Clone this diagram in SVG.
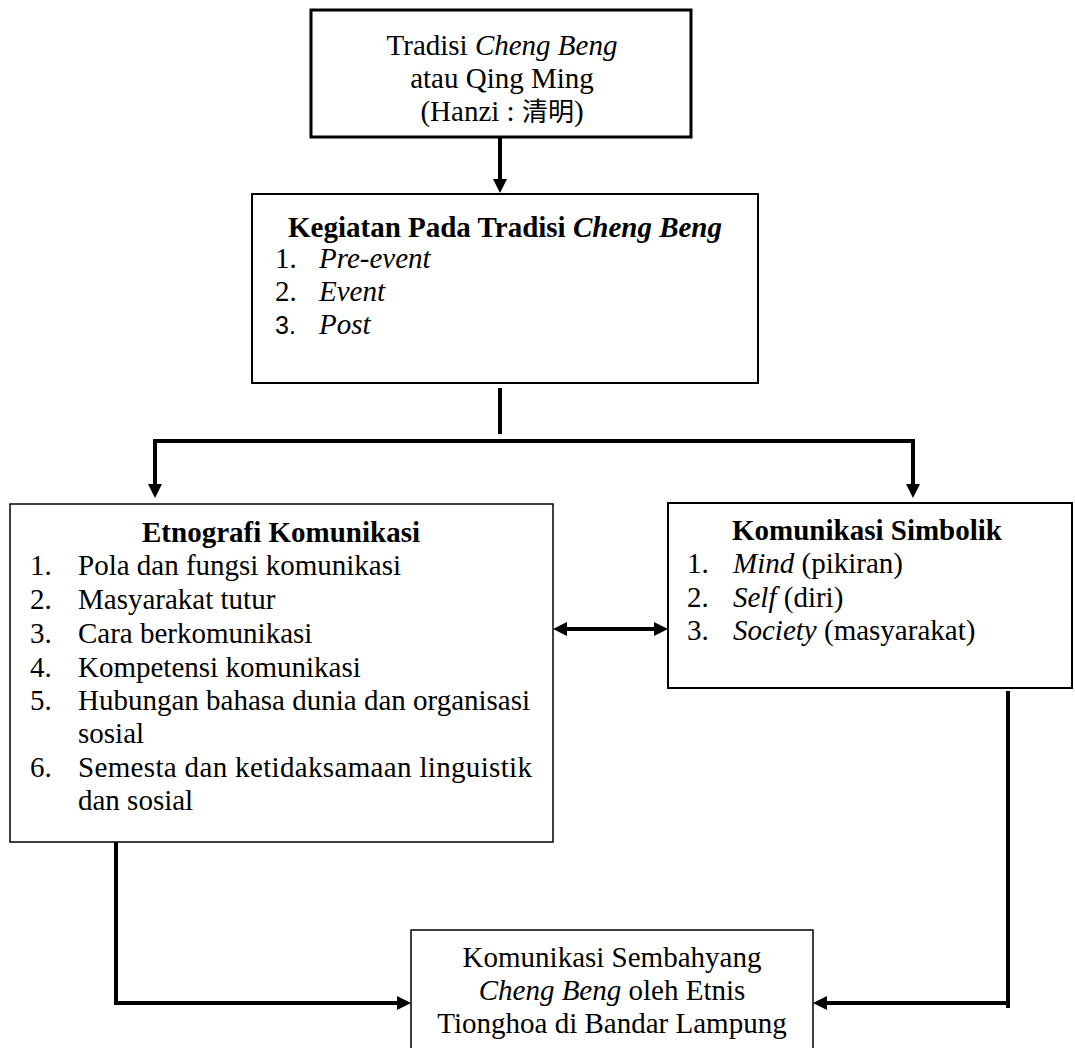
<svg xmlns="http://www.w3.org/2000/svg" width="1075" height="1048" viewBox="0 0 1075 1048">
<style>
  .t { font-family: "Liberation Serif", "Times New Roman", "Noto Sans CJK SC", serif; font-size: 29px; fill: #000; }
  .c { text-anchor: middle; }
  .b { font-weight: bold; }
  .i { font-style: italic; }
  .cjk { font-family: "Noto Sans CJK SC", sans-serif; font-size: 26px; }
  .sans { font-family: "Liberation Sans", Arial, sans-serif; font-size: 25px; }
  .box { fill: #fff; stroke: #000; }
  .ln { fill: none; stroke: #000; stroke-width: 4; }
</style>
<defs>
  <marker id="ah" viewBox="0 0 14 14" refX="0" refY="7" markerWidth="14" markerHeight="14" markerUnits="userSpaceOnUse" orient="auto-start-reverse">
    <path d="M0,0 L14,7 L0,14 z" fill="#000"/>
  </marker>
</defs>
<rect width="1075" height="1048" fill="#fff"/>

<g id="connectors">
  <path class="ln" d="M500,137 V179" marker-end="url(#ah)"/>
  <path class="ln" d="M500,388 V434"/>
  <path class="ln" d="M155,484 V441 H913 V484" marker-start="url(#ah)" marker-end="url(#ah)"/>
  <path class="ln" d="M567,629 H654" marker-start="url(#ah)" marker-end="url(#ah)"/>
  <path class="ln" d="M116,842 V1003 H397" marker-end="url(#ah)"/>
  <path class="ln" d="M1008,691 V1008 M1008,1003 H827" marker-end="url(#ah)"/>
</g>

<g id="node-tradisi">
  <rect class="box" x="311" y="10" width="380" height="127" stroke-width="3"/>
  <text class="t c" x="502" y="55">Tradisi <tspan class="i">Cheng Beng</tspan></text>
  <text class="t c" x="502" y="88">atau Qing Ming</text>
  <text class="t c" x="502" y="121">(Hanzi : <tspan class="cjk">清明</tspan>)</text>
</g>

<g id="node-kegiatan">
  <rect class="box" x="252" y="194" width="506" height="189" stroke-width="2"/>
  <text class="t c b" x="505" y="237">Kegiatan Pada Tradisi <tspan class="i">Cheng Beng</tspan></text>
  <text class="t" x="275" y="268">1.</text><text class="t i" x="319" y="268">Pre-event</text>
  <text class="t" x="275" y="301">2.</text><text class="t i" x="319" y="301">Event</text>
  <text class="t sans" x="275" y="334">3.</text><text class="t i" x="319" y="334">Post</text>
</g>

<g id="node-etnografi">
  <rect class="box" x="10" y="504" width="543" height="338" stroke-width="1.5"/>
  <text class="t c b" x="281" y="542">Etnografi Komunikasi</text>
  <text class="t" x="30" y="575">1.</text><text class="t" x="78" y="575">Pola dan fungsi komunikasi</text>
  <text class="t" x="30" y="609">2.</text><text class="t" x="78" y="609">Masyarakat tutur</text>
  <text class="t" x="30" y="643">3.</text><text class="t" x="78" y="643">Cara berkomunikasi</text>
  <text class="t" x="30" y="677">4.</text><text class="t" x="78" y="677">Kompetensi komunikasi</text>
  <text class="t" x="30" y="710">5.</text><text class="t" x="78" y="710">Hubungan bahasa dunia dan organisasi</text>
  <text class="t" x="78" y="743">sosial</text>
  <text class="t" x="30" y="777">6.</text><text class="t" x="78" y="777" textLength="454" lengthAdjust="spacing">Semesta dan ketidaksamaan linguistik</text>
  <text class="t" x="78" y="810">dan sosial</text>
</g>

<g id="node-simbolik">
  <rect class="box" x="668" y="503" width="404" height="185" stroke="#333" stroke-width="2"/>
  <text class="t c b" x="867" y="540">Komunikasi Simbolik</text>
  <text class="t" x="687" y="573">1.</text><text class="t" x="733" y="573"><tspan class="i">Mind</tspan> (pikiran)</text>
  <text class="t" x="687" y="607">2.</text><text class="t" x="733" y="607"><tspan class="i">Self</tspan> (diri)</text>
  <text class="t" x="687" y="640">3.</text><text class="t" x="733" y="640"><tspan class="i">Society</tspan> (masyarakat)</text>
</g>

<g id="node-sembahyang">
  <rect class="box" x="411" y="930" width="402" height="130" stroke-width="1.5"/>
  <text class="t c" x="612" y="967">Komunikasi Sembahyang</text>
  <text class="t c" x="612" y="1000"><tspan class="i">Cheng Beng</tspan> oleh Etnis</text>
  <text class="t c" x="612" y="1033">Tionghoa di Bandar Lampung</text>
</g>
</svg>
